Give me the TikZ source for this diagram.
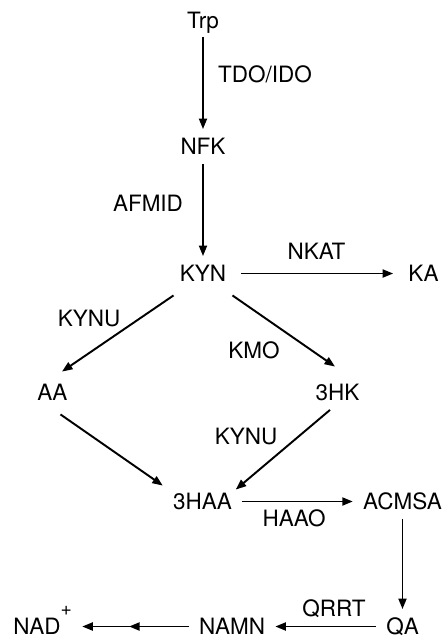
\documentclass[tikz,border=0pt]{standalone}
\usepackage{fontspec}
\setmainfont{TeX Gyre Heros}
\usepackage{tikz}
\usetikzlibrary{arrows.meta,decorations.markings}

\begin{document}
\begin{tikzpicture}[
  >={Triangle[length=0.21cm, width=0.16cm]},
  font=\fontsize{12.8}{15}\selectfont,
  met/.style={inner xsep=0.2cm, inner ysep=0.18cm,
              text height=9.2pt, text depth=0pt},
  enz/.style={inner sep=0pt, text height=9.2pt, text depth=0pt},
  rxn/.style={->, line width=1.1pt},
  multi/.style={rxn, postaction={decorate},
                decoration={markings, mark=at position 0.56 with
                  {\arrow{Triangle[length=0.21cm, width=0.16cm]}}}}
]
\useasboundingbox (0,0) rectangle (8.9,-12.78);

% ---- X positions ----
\def\xM{4.06}   % main column
\def\xR{8.05}   % right column

% ---- Metabolites ----
\node[met] (trp)   at (\xM,-0.40)  {Trp};
\node[met] (nfk)   at (\xM,-2.93)  {NFK};
\node[met] (kyn)   at (\xM,-5.47)  {KYN};
\node[met] (ka)    at (8.47,-5.47) {KA};
\node[met] (aa)    at (1.05,-7.85) {AA};
\node[met] (hk)    at (6.75,-7.85) {3HK};
\node[met] (haa)   at (4.05,-10.03) {3HAA};
\node[met] (acmsa) at (\xR,-10.03) {ACMSA};
\node[met] (qa)    at (\xR,-12.53) {QA};
\node[met] (namn)  at (4.64,-12.53) {NAMN};
\node[met, anchor=west] (nad) at (0.06,-12.53)
  {NAD\raisebox{11pt}{\fontsize{11}{11}\selectfont +}};

% ---- Enzymes ----
\node[enz] (tdo)   at (5.30,-1.48)  {TDO/IDO};
\node[enz] (afmid) at (2.96,-4.07)  {AFMID};
\node[enz] (nkat)  at (6.33,-5.03)  {NKAT};
\node[enz] (kynuA) at (1.78,-6.37)  {KYNU};
\node[enz] (kmo)   at (5.08,-7.00)  {KMO};
\node[enz] (kynuB) at (4.92,-8.73)  {KYNU};
\node[enz] (haao)  at (5.88,-10.36) {HAAO};
\node[enz] (qrrt)  at (6.68,-12.16) {QRRT};

% ---- Reactions ----
\draw[rxn] (trp) -- (nfk);
\draw[rxn] (nfk) -- (kyn);
\draw[rxn, shorten <=0.1cm, shorten >=0.1cm] (kyn) -- (ka);
\draw[rxn] ([xshift=0.08cm, yshift=-0.09cm]kyn.south west)
  -- ([xshift=0.19cm, yshift=0.07cm]aa.north);
\draw[rxn] ([xshift=-0.08cm, yshift=-0.09cm]kyn.south east)
  -- ([xshift=-0.05cm, yshift=0.17cm]hk.north);
\draw[rxn] ([xshift=0.16cm, yshift=-0.09cm]aa.south)
  -- ([yshift=-0.03cm]haa.north west);
\draw[rxn] ([xshift=-0.15cm]hk.south)
  -- ([xshift=-0.13cm, yshift=-0.11cm]haa.north east);
\draw[rxn] (haa) -- (acmsa);
\draw[rxn] (acmsa) -- (qa);
\draw[rxn] (qa) -- (namn);
\draw[multi] (namn) -- (nad);

\end{tikzpicture}
\end{document}
